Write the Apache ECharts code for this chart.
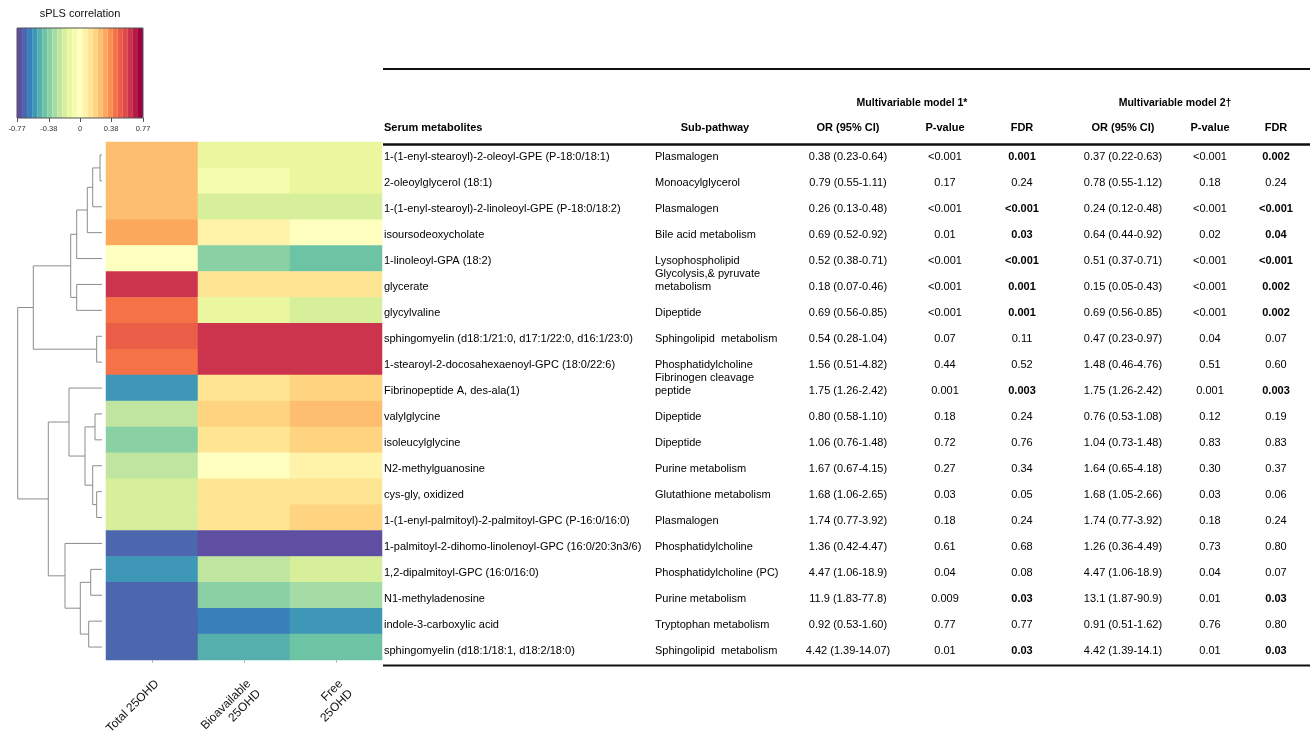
<!DOCTYPE html>
<html><head><meta charset="utf-8">
<script src="https://cdn.jsdelivr.net/npm/echarts@6/dist/echarts.min.js"></script>
<style>html,body{margin:0;padding:0;background:#fff}#c{width:1314px;height:735px}</style>
</head><body><div id="c"></div>
<script>
// ---------------- data ----------------
const metabolites = [
  '1-(1-enyl-stearoyl)-2-oleoyl-GPE (P-18:0/18:1)',
  '2-oleoylglycerol (18:1)',
  '1-(1-enyl-stearoyl)-2-linoleoyl-GPE (P-18:0/18:2)',
  'isoursodeoxycholate',
  '1-linoleoyl-GPA (18:2)',
  'glycerate',
  'glycylvaline',
  'sphingomyelin (d18:1/21:0, d17:1/22:0, d16:1/23:0)',
  '1-stearoyl-2-docosahexaenoyl-GPC (18:0/22:6)',
  'Fibrinopeptide A, des-ala(1)',
  'valylglycine',
  'isoleucylglycine',
  'N2-methylguanosine',
  'cys-gly, oxidized',
  '1-(1-enyl-palmitoyl)-2-palmitoyl-GPC (P-16:0/16:0)',
  '1-palmitoyl-2-dihomo-linolenoyl-GPC (16:0/20:3n3/6)',
  '1,2-dipalmitoyl-GPC (16:0/16:0)',
  'N1-methyladenosine',
  'indole-3-carboxylic acid',
  'sphingomyelin (d18:1/18:1, d18:2/18:0)'
];
const subPathways = [
  'Plasmalogen','Monoacylglycerol','Plasmalogen','Bile acid metabolism','Lysophospholipid',
  'Glycolysis,& pyruvate\nmetabolism','Dipeptide','Sphingolipid  metabolism','Phosphatidylcholine',
  'Fibrinogen cleavage\npeptide','Dipeptide','Dipeptide','Purine metabolism','Glutathione metabolism',
  'Plasmalogen','Phosphatidylcholine','Phosphatidylcholine (PC)','Purine metabolism',
  'Tryptophan metabolism','Sphingolipid  metabolism'
];
const exposures = ['Total 25OHD', 'Bioavailable\n25OHD', 'Free\n25OHD'];
const corrTotal = [0.27,0.27,0.27,0.33,0.02,0.64,0.43,0.47,0.43,-0.57,-0.24,-0.37,-0.24,-0.19,-0.19,-0.70,-0.57,-0.70,-0.70,-0.70];
const corrBioavailable = [-0.12,-0.06,-0.19,0.08,-0.37,0.15,-0.14,0.64,0.64,0.15,0.21,0.15,0.02,0.15,0.15,-0.77,-0.24,-0.37,-0.64,-0.50];
const corrFree = [-0.12,-0.12,-0.19,0.02,-0.46,0.15,-0.19,0.64,0.64,0.21,0.27,0.21,0.08,0.15,0.21,-0.77,-0.19,-0.31,-0.57,-0.46];
const or1 = ['0.38 (0.23-0.64)','0.79 (0.55-1.11)','0.26 (0.13-0.48)','0.69 (0.52-0.92)','0.52 (0.38-0.71)','0.18 (0.07-0.46)','0.69 (0.56-0.85)','0.54 (0.28-1.04)','1.56 (0.51-4.82)','1.75 (1.26-2.42)','0.80 (0.58-1.10)','1.06 (0.76-1.48)','1.67 (0.67-4.15)','1.68 (1.06-2.65)','1.74 (0.77-3.92)','1.36 (0.42-4.47)','4.47 (1.06-18.9)','11.9 (1.83-77.8)','0.92 (0.53-1.60)','4.42 (1.39-14.07)'];
const p1 = ['<0.001','0.17','<0.001','0.01','<0.001','<0.001','<0.001','0.07','0.44','0.001','0.18','0.72','0.27','0.03','0.18','0.61','0.04','0.009','0.77','0.01'];
const fdr1 = ['0.001','0.24','<0.001','0.03','<0.001','0.001','0.001','0.11','0.52','0.003','0.24','0.76','0.34','0.05','0.24','0.68','0.08','0.03','0.77','0.03'];
const or2 = ['0.37 (0.22-0.63)','0.78 (0.55-1.12)','0.24 (0.12-0.48)','0.64 (0.44-0.92)','0.51 (0.37-0.71)','0.15 (0.05-0.43)','0.69 (0.56-0.85)','0.47 (0.23-0.97)','1.48 (0.46-4.76)','1.75 (1.26-2.42)','0.76 (0.53-1.08)','1.04 (0.73-1.48)','1.64 (0.65-4.18)','1.68 (1.05-2.66)','1.74 (0.77-3.92)','1.26 (0.36-4.49)','4.47 (1.06-18.9)','13.1 (1.87-90.9)','0.91 (0.51-1.62)','4.42 (1.39-14.1)'];
const p2 = ['<0.001','0.18','<0.001','0.02','<0.001','<0.001','<0.001','0.04','0.51','0.001','0.12','0.83','0.30','0.03','0.18','0.73','0.04','0.01','0.76','0.01'];
const fdr2 = ['0.002','0.24','<0.001','0.04','<0.001','0.002','0.002','0.07','0.60','0.003','0.19','0.83','0.37','0.06','0.24','0.80','0.07','0.03','0.80','0.03'];
const colorbarTicks = [-0.77, -0.38, 0, 0.38, 0.77];
// dendrogram merges: [child A, child B, height]; leaves 0..19, merge k creates node 20+k
const dendroMerges = [
  [0,1,2],[20,2,9.3],[21,3,14.7],[22,4,25.3],[5,6,25.3],[23,24,31.3],[7,8,5.3],[25,26,68.7],
  [10,11,7],[13,14,5.3],[12,29,9.3],[28,30,17],[9,31,33],[16,17,11.3],[18,19,13.3],[33,34,21.7],
  [15,35,37],[32,36,53.7],[27,37,84.3]
];
const tableHeaders = ['Serum metabolites','Sub-pathway','OR (95% CI)','P-value','FDR','OR (95% CI)','P-value','FDR'];
const modelHeaders = ['Multivariable model 1*','Multivariable model 2\u2020'];

// ---------------- layout / style ----------------
const FONT = '"Liberation Sans", Arial, Helvetica, sans-serif';
const spectral = ['#5E4FA2','#3288BD','#66C2A5','#ABDDA4','#E6F598','#FFFFBF','#FEE08B','#FDAE61','#F46D43','#D53E4F','#9E0142'];
const colX = [384, 655, 848, 945, 1022, 1123, 1210, 1276];
const colAlign = ['left','left','center','center','center','center','center','center'];
const HM = {left:106, top:142, width:276, height:518};
const TB = {left:382, top:143, width:928, height:520};
const gridBase = {show: false, containLabel: false, outerBoundsMode: 'none'};

// heatmap data
const cols = [corrTotal, corrBioavailable, corrFree];
const hmData = [];
cols.forEach((arr, x) => arr.forEach((v, y) => hmData.push([x, y, v])));

// dendrogram segments
const nodeY = metabolites.map((_, i) => i);
const nodeH = metabolites.map(() => 0);
const dendroLines = [];
dendroMerges.forEach(([a, b, h]) => {
  dendroLines.push({coords: [[nodeH[a], nodeY[a]], [h, nodeY[a]], [h, nodeY[b]], [nodeH[b], nodeY[b]]]});
  nodeY.push((nodeY[a] + nodeY[b]) / 2);
  nodeH.push(h);
});

const isBold = s => s.startsWith('<') || parseFloat(s) < 0.05;
const rowCols = i => [metabolites[i], subPathways[i], or1[i], p1[i], fdr1[i], or2[i], p2[i], fdr2[i]];

const chart = echarts.init(document.getElementById('c'));
chart.setOption({
  animation: false,
  backgroundColor: '#fff',
  textStyle: {fontFamily: FONT},
  visualMap: {
    type: 'piecewise', min: -0.77, max: 0.77, splitNumber: 25, orient: 'horizontal',
    left: 17, top: 28, itemWidth: 126 / 25, itemHeight: 90, itemGap: 0, padding: 0,
    showLabel: false, itemSymbol: 'rect', seriesIndex: 0, hoverLink: false, selectedMode: false,
    inRange: {color: spectral}
  },
  grid: [
    Object.assign({}, gridBase, HM),
    Object.assign({}, gridBase, {left: 12, top: HM.top, width: 90, height: HM.height}),
    Object.assign({}, gridBase, TB),
    Object.assign({}, gridBase, {left: 17, top: 28, width: 126, height: 90})
  ],
  xAxis: [
    {gridIndex: 0, type: 'category', data: exposures, axisLine: {show: false},
     axisTick: {show: true, length: 3, alignWithLabel: true, lineStyle: {color: '#bbb'}},
     axisLabel: {rotate: 45, fontSize: 12, color: '#111', margin: 17, lineHeight: 14, interval: 0,
                 verticalAlign: 'top', fontFamily: FONT}},
    {gridIndex: 1, type: 'value', min: 0, max: 90, inverse: true, show: false},
    {gridIndex: 2, type: 'value', min: 0, max: 1, show: false},
    {gridIndex: 3, type: 'value', min: -0.77, max: 0.77, position: 'bottom',
     axisLine: {show: false}, splitLine: {show: false},
     axisTick: {show: true, length: 4, customValues: colorbarTicks, lineStyle: {color: '#555'}},
     axisLabel: {customValues: colorbarTicks, fontSize: 7.5, color: '#333', margin: 7,
                 formatter: v => String(v)}}
  ],
  yAxis: [
    {gridIndex: 0, type: 'category', data: metabolites, inverse: true, show: false},
    {gridIndex: 1, type: 'value', min: -0.5, max: metabolites.length - 0.5, inverse: true, show: false},
    {gridIndex: 2, type: 'category', data: metabolites, inverse: true, show: false},
    {gridIndex: 3, type: 'value', min: 0, max: 1, show: false}
  ],
  series: [
    {type: 'heatmap', xAxisIndex: 0, yAxisIndex: 0, data: hmData, silent: true, itemStyle: {borderWidth: 0}},
    {type: 'lines', coordinateSystem: 'cartesian2d', xAxisIndex: 1, yAxisIndex: 1, polyline: true,
     silent: true, data: dendroLines, lineStyle: {color: '#8c8c8c', width: 1, opacity: 1}},
    {type: 'custom', xAxisIndex: 2, yAxisIndex: 2, silent: true,
     data: metabolites.map((_, i) => [0, i]),
     renderItem: (params, api) => {
       const i = params.dataIndex;
       const y = api.coord([0, i])[1] + 0.5;
       const texts = rowCols(i).map((t, c) => ({
         type: 'text', x: colX[c], y: y + 6.5,
         style: {text: t, align: colAlign[c], verticalAlign: 'bottom', lineHeight: 13,
                 fontSize: 11, fontFamily: FONT, fill: '#000',
                 fontWeight: (c === 4 || c === 7) && isBold(t) ? 'bold' : 'normal'}
       }));
       return {type: 'group', children: texts};
     }},
    {type: 'scatter', xAxisIndex: 3, yAxisIndex: 3, data: []}
  ],
  graphic: [
    {type: 'rect', shape: {x: 17, y: 28, width: 126, height: 90}, silent: true, z: 100,
     style: {fill: 'none', stroke: '#555', lineWidth: 1}},
    {type: 'text', x: 80, y: 14, silent: true,
     style: {text: 'sPLS correlation', align: 'center', verticalAlign: 'middle', fontSize: 11, fontFamily: FONT, fill: '#111'}},
    {type: 'line', shape: {x1: 383, y1: 69, x2: 1310, y2: 69}, style: {stroke: '#111', lineWidth: 2}, silent: true},
    {type: 'line', shape: {x1: 383, y1: 144.5, x2: 1310, y2: 144.5}, style: {stroke: '#111', lineWidth: 2.5}, silent: true},
    {type: 'line', shape: {x1: 383, y1: 665.5, x2: 1310, y2: 665.5}, style: {stroke: '#111', lineWidth: 2}, silent: true},
    {type: 'text', x: 912, y: 103, silent: true,
     style: {text: modelHeaders[0], align: 'center', verticalAlign: 'middle', fontSize: 10.5, fontWeight: 'bold', fontFamily: FONT, fill: '#000'}},
    {type: 'text', x: 1175, y: 103, silent: true,
     style: {text: modelHeaders[1], align: 'center', verticalAlign: 'middle', fontSize: 10.5, fontWeight: 'bold', fontFamily: FONT, fill: '#000'}}
  ].concat(tableHeaders.map((h, c) => ({
    type: 'text', x: c === 1 ? 715 : colX[c], y: 128, silent: true,
    style: {text: h, align: c === 1 ? 'center' : colAlign[c], verticalAlign: 'middle', fontSize: 11,
            fontWeight: 'bold', fontFamily: FONT, fill: '#000'}
  })))
});
</script></body></html>
